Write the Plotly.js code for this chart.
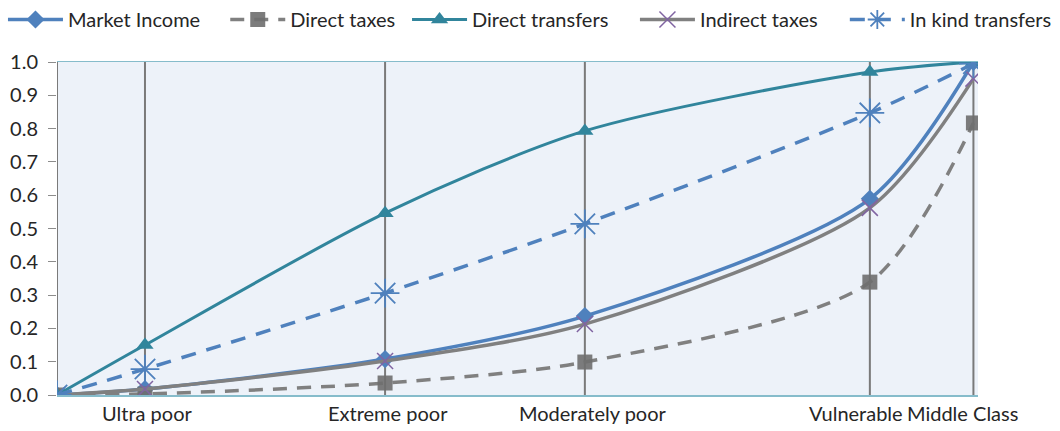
<!DOCTYPE html>
<html>
<head>
<meta charset="utf-8">
<script src="https://cdn.plot.ly/plotly-3.0.1.min.js"></script>
<style>
html,body{margin:0;padding:0;background:#fff;}
#chart{width:1060px;height:431px;}
</style>
</head>
<body>
<div id="chart"></div>
<script>
// Cumulative population share at each group boundary
var groups = ["", "Ultra poor", "Extreme poor", "Moderately poor", "Vulnerable", "Middle Class"];
var popShare = [0, 0.096, 0.358, 0.576, 0.887, 1.0];

var marketIncome    = [0, 0.018, 0.108, 0.237, 0.589, 1.0];
var directTaxes     = [0, 0.003, 0.036, 0.099, 0.339, 0.817];
var directTransfers = [0, 0.150, 0.546, 0.793, 0.970, 1.0];
var indirectTaxes   = [0, 0.018, 0.102, 0.213, 0.562, 0.950];
var inKindTransfers = [0, 0.078, 0.306, 0.514, 0.847, 0.995];

var yTicks = [0, 0.1, 0.2, 0.3, 0.4, 0.5, 0.6, 0.7, 0.8, 0.9, 1.0];

var FONT = "Lato, 'Open Sans', sans-serif";
var labelShift = [0, 2, 3, 8, -14, -11];
var legendX = [0.0028, 0.2125, 0.384, 0.599, 0.797];

var traces = [
  {name: "Market Income", x: popShare, y: marketIncome, mode: "lines+markers", legend: "legend",
   line: {color: "#4f81bd", width: 3.5, shape: "spline", smoothing: 0.8},
   marker: {symbol: "diamond", size: 14, color: "#4f81bd"}},
  {name: "Direct taxes", x: popShare, y: directTaxes, mode: "lines+markers", legend: "legend2",
   line: {color: "#808080", width: 3.5, dash: "14px,10px", shape: "spline", smoothing: 0.8},
   marker: {symbol: "square", size: 15, color: "rgba(110,110,110,0.9)"}},
  {name: "Direct transfers", x: popShare, y: directTransfers, mode: "lines+markers", legend: "legend3",
   line: {color: "#31859c", width: 3, shape: "spline", smoothing: 0.8},
   marker: {symbol: "triangle-up", size: 15, color: "#31859c"}},
  {name: "Indirect taxes", x: popShare, y: indirectTaxes, mode: "lines+markers", legend: "legend4",
   line: {color: "#808080", width: 3.5, shape: "spline", smoothing: 0.8},
   marker: {symbol: "x-thin-open", size: 16, color: "#8064a2", line: {color: "#8064a2", width: 1.5}}},
  {name: "In kind transfers", x: popShare, y: inKindTransfers, mode: "lines+markers", legend: "legend5",
   line: {color: "#4f81bd", width: 3.5, dash: "15px,11px", shape: "spline", smoothing: 0.8},
   marker: {symbol: "asterisk-open", size: 24, color: "#4f81bd", line: {color: "#4f81bd", width: 1.8}}}
];

var shapes = popShare.map(function (xv) {
  return {type: "line", xref: "x", yref: "paper", x0: xv, x1: xv, y0: 0, y1: 1,
          line: {color: "#7a7a7a", width: 2}, layer: "below"};
});

var annotations = [];
for (var i = 1; i < groups.length; i++) {
  annotations.push({x: popShare[i], y: 0, xref: "x", yref: "y", text: groups[i],
    showarrow: false, yanchor: "top", yshift: -4, xshift: labelShift[i],
    font: {family: FONT, size: 20, color: "#262626"}});
}

function mkLegend(xv) {
  return {orientation: "h", xref: "container", yref: "container", x: xv, y: 1,
          xanchor: "left", yanchor: "top", itemwidth: 55, bgcolor: "rgba(0,0,0,0)",
          font: {family: FONT, size: 20, color: "#262626"}};
}

var layout = {
  width: 1060, height: 431,
  margin: {l: 57, r: 82, t: 62, b: 36, autoexpand: false},
  paper_bgcolor: "#ffffff",
  plot_bgcolor: "#edf2f9",
  font: {family: FONT, size: 20, color: "#262626"},
  showlegend: true,
  legend: mkLegend(legendX[0]),
  legend2: mkLegend(legendX[1]),
  legend3: mkLegend(legendX[2]),
  legend4: mkLegend(legendX[3]),
  legend5: mkLegend(legendX[4]),
  xaxis: {range: [0, 1.005], showgrid: false, zeroline: false, showticklabels: false,
          showline: true, mirror: true, linecolor: "#86bccb", linewidth: 1.5, ticks: ""},
  yaxis: {range: [0, 1.0], tickvals: yTicks, tickformat: ".1f", showgrid: false, zeroline: false,
          ticks: "outside", ticklen: 8, tickcolor: "#8c8c8c", showline: false,
          ticklabelstandoff: 6,
          tickfont: {family: FONT, size: 20, color: "#262626"}},
  shapes: shapes,
  annotations: annotations
};

Plotly.newPlot("chart", traces, layout, {displayModeBar: false, staticPlot: true});
</script>
</body>
</html>
